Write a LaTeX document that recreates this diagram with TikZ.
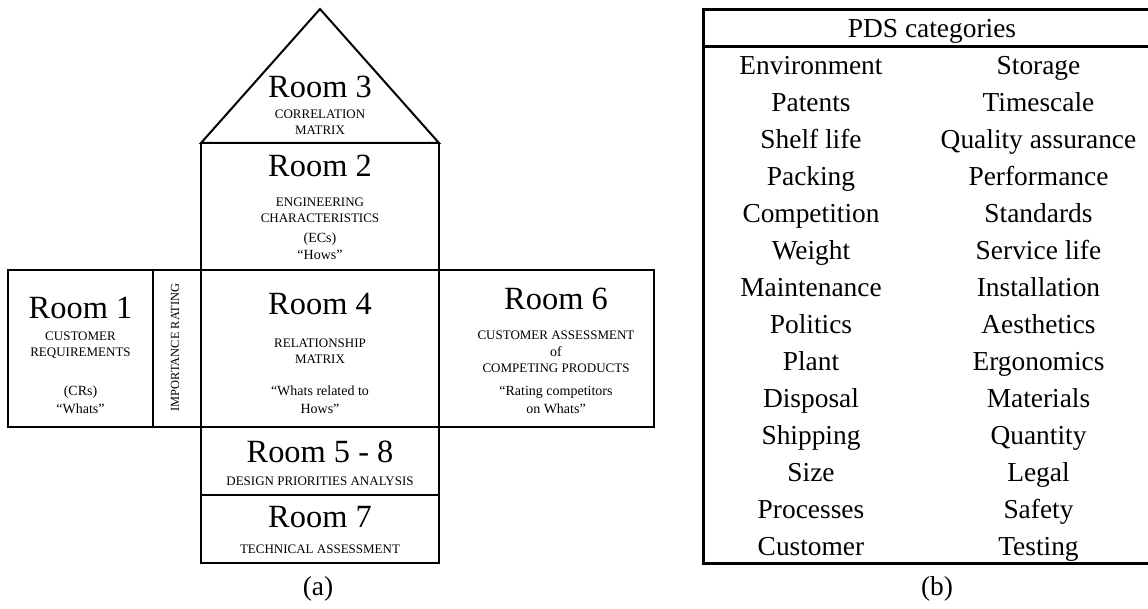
\documentclass[tikz,border=0pt]{standalone}
\usepackage{fontspec}
\setmainfont{Liberation Serif}
\begin{document}
\begin{tikzpicture}[x=0.5pt,y=-0.5pt,
  wall/.style={line width=1pt, line join=miter},
  frame/.style={line width=1.5pt},
  big/.style={font=\fontsize{16.2}{18}\selectfont, anchor=base, inner sep=0pt},
  caps/.style={font=\fontsize{6.5}{7.5}\selectfont, anchor=base, inner sep=0pt},
  quote/.style={font=\fontsize{7}{8}\selectfont, anchor=base, inner sep=0pt},
  cell/.style={font=\fontsize{13.7}{15}\selectfont, anchor=base, inner sep=0pt},
]
\useasboundingbox (0,0) rectangle (1148,609);

% ---------- (a) house of quality ----------
\coordinate (apex) at (320,9);
\coordinate (roofL) at (201,143);
\coordinate (roofR) at (439,143);

% roof (room 3) and room 2
\draw[wall] (roofL) -- (apex) -- (roofR) -- cycle;
\draw[wall] (roofL) rectangle (439,270);
% middle row: rooms 1, importance rating, 4, 6
\draw[wall] (8,270) rectangle (654,427);
\draw[wall] (153,270) -- (153,427);
\draw[wall] (201,270) -- (201,427);
\draw[wall] (439,270) -- (439,427);
% lower rooms
\draw[wall] (201,427) rectangle (439,495);
\draw[wall] (201,495) rectangle (439,563);

% room 3
\node[big]  (r3)  at (320,97.7) {Room 3};
\node[caps] (r3a) at (320,119)  {CORRELATION};
\node[caps] (r3b) at (320,135)  {MATRIX};

% room 2
\node[big]   (r2)  at (320,176.7) {Room 2};
\node[caps]  (r2a) at (320,206.7) {ENGINEERING};
\node[caps]  (r2b) at (320,222.7) {CHARACTERISTICS};
\node[quote] (r2c) at (320,242.7) {(ECs)};
\node[quote] (r2d) at (320,260)   {“Hows”};

% room 1
\node[big]   (r1)  at (80.5,318.3) {Room 1};
\node[caps]  (r1a) at (80.5,341)   {CUSTOMER};
\node[caps]  (r1b) at (80.5,356.7) {REQUIREMENTS};
\node[quote] (r1c) at (80.5,396)   {(CRs)};
\node[quote] (r1d) at (80.5,413.3) {“Whats”};

% importance rating column
\node[font=\fontsize{6.2}{7}\selectfont, inner sep=0pt, rotate=90] (imp) at (175,347.5) {IMPORTANCE RATING};

% room 4
\node[big]   (r4)  at (320,314.3) {Room 4};
\node[caps]  (r4a) at (320,347.7) {RELATIONSHIP};
\node[caps]  (r4b) at (320,364)   {MATRIX};
\node[quote] (r4c) at (320,396)   {“Whats related to};
\node[quote] (r4d) at (320,414)   {Hows”};

% room 6
\node[big]   (r6)  at (556,309.3) {Room 6};
\node[caps]  (r6a) at (556,340)   {CUSTOMER ASSESSMENT};
\node[quote] (r6b) at (556,356.7) {of};
\node[caps]  (r6c) at (556,372.7) {COMPETING PRODUCTS};
\node[quote] (r6d) at (556,395.7) {“Rating competitors};
\node[quote] (r6e) at (556,413.3) {on Whats”};

% rooms 5-8 and 7
\node[big]  (r58)  at (320,462.7) {Room 5 - 8};
\node[caps] (r58a) at (320,485.7) {DESIGN PRIORITIES ANALYSIS};
\node[big]  (r7)   at (320,527.7) {Room 7};
\node[caps] (r7a)  at (320,554)   {TECHNICAL ASSESSMENT};

\node[cell] (capa) at (318,596) {(a)};

% ---------- (b) PDS categories ----------
\draw[frame] (703,9.5) rectangle (1162,564);
\draw[frame] (703,47) -- (1162,47);
\node[cell] (head) at (932,37.3) {PDS categories};

\foreach \l/\r [count=\i from 0] in {
  Environment/Storage, Patents/Timescale, Shelf life/Quality assurance,
  Packing/Performance, Competition/Standards, Weight/Service life,
  Maintenance/Installation, Politics/Aesthetics, Plant/Ergonomics,
  Disposal/Materials, Shipping/Quantity, Size/Legal,
  Processes/Safety, Customer/Testing} {
  \node[cell] (L\i) at (811,75+37*\i) {\l};
  \node[cell] (R\i) at (1038.5,75+37*\i) {\r};
}

\node[cell] (capb) at (937,596) {(b)};
\end{tikzpicture}
\end{document}
